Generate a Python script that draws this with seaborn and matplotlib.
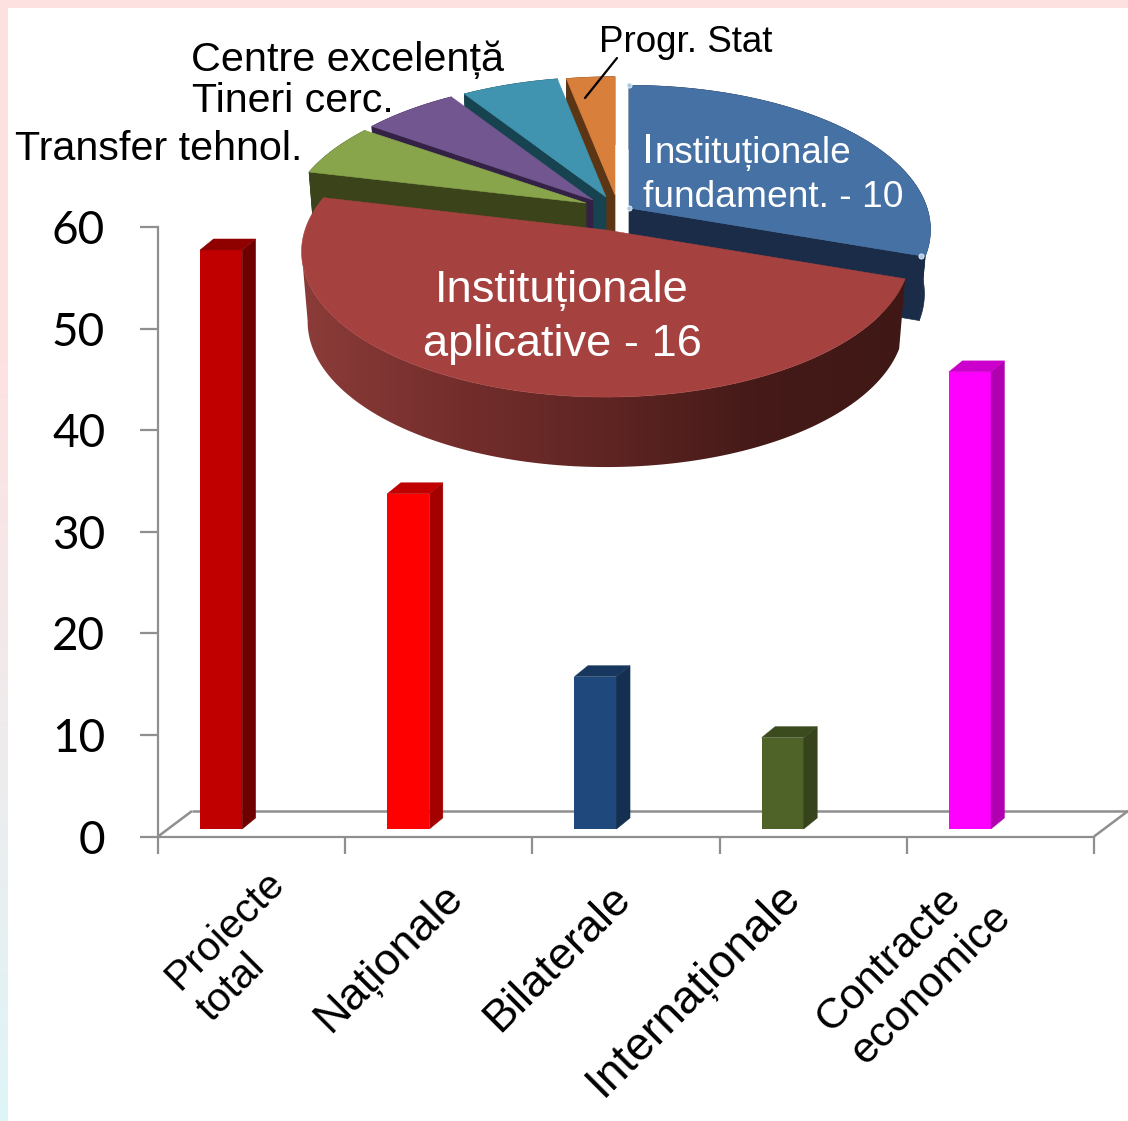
import numpy as np
import matplotlib
matplotlib.use("Agg")
import matplotlib.pyplot as plt
import seaborn as sns
from matplotlib.patches import Polygon
from matplotlib.transforms import Affine2D
from matplotlib.colors import LinearSegmentedColormap

# ---- data ----
categories = ["Proiecte\ntotal", "Naționale", "Bilaterale", "Internaționale", "Contracte\neconomice"]
bar_values = [57, 33, 15, 9, 45]
pie_names = ["Institutionale fundament.", "Institutionale aplicative", "Transfer tehnol.",
             "Tineri cerc.", "Centre excelenta", "Progr. Stat"]
pie_values = [10, 16, 2, 2, 2, 1]

# ---- styles ----
W, H = 1128, 1121
GREY = "#8f8f8f"
bar_front = ["#c00000", "#ff0000", "#1f497d", "#4f6228", "#ff00ff"]
bar_top = ["#8f0000", "#c00000", "#17375e", "#3c4b1e", "#cc00cc"]
bar_side = ["#6e0000", "#a30000", "#142f50", "#37441b", "#b000b0"]
pie_top = ["#4671a5", "#a54240", "#88a54b", "#725690", "#4094af", "#d87f3c"]
pie_dark = ["#1a2c47", "#5a2422", "#3a431a", "#332245", "#17424f", "#5c3514"]
apex_px = [(629, 208), (606, 230), (586, 203), (593, 200), (606, 197), (615, 195)]
pie_a = [298, 301, 295, 295, 295, 295]
pie_b = [141, 142, 136, 138, 138, 136]
pie_depth = [64, 70, 68, 68, 68, 68]
PERSP, TAPER = 0.15, 0.98
draw_order = [5, 4, 3, 2, 0, 1]
label_sizes = [29.5, 32.5, 32.5, 33.5, 31]
label_centres = [(241, 946), (389, 958), (558, 958), (694, 990), (914, 968)]

sns.set_theme(style="white")
plt.rcParams["font.family"] = ["Liberation Sans", "DejaVu Sans"]

fig = plt.figure(figsize=(W / 100, H / 100), dpi=100, facecolor="white")

# page background: pink top strip, pink-to-cyan left strip
bg = np.ones((H, W, 3))
t = np.clip((np.arange(H) - 350) / (H - 350), 0, 1)[:, None, None]
bg[:, :8] = (1 - t) * np.array([0.995, 0.885, 0.885]) + t * np.array([0.875, 0.96, 0.97])
bg[:8, :] = np.array([0.995, 0.885, 0.885])
fig.figimage(bg, 0, 0, origin="upper", zorder=-5)

# ---- category axes ----
x0, x1, y0, y60 = 158, 1094, 836.5, 227
rect = [x0 / W, (H - y0) / H, (x1 - x0) / W, (y0 - y60) / H]
ax = fig.add_axes(rect, zorder=1)
ax.patch.set_visible(False)
ax.set_xlim(-0.5, 4.5)
ax.set_ylim(0, 60)
px_x = (x1 - x0) / 5
px_y = (y0 - y60) / 60
for s in ("top", "right"):
    ax.spines[s].set_visible(False)
for s in ("left", "bottom"):
    ax.spines[s].set_color(GREY)
    ax.spines[s].set_linewidth(1.6)
ax.set_yticks(range(0, 61, 10))
ax.set_xticks(np.arange(-0.5, 5, 1))
ax.set_xticklabels([])
ax.tick_params(axis="y", length=13, width=1.6, color=GREY, pad=25, left=True)
ax.tick_params(axis="x", which="major", length=12.5, width=1.6, color=GREY, bottom=True)
for lab in ax.get_yticklabels():
    lab.set_fontfamily("Lato")
    lab.set_fontsize(33)
    lab.set_color("black")

ax.set_xticks(range(5), categories, minor=True)
ax.tick_params(axis="x", which="minor", length=0, pad=0)
for i, lab in enumerate(ax.get_xticklabels(minor=True)):
    lab.set(rotation=45, ha="center", va="center", fontsize=label_sizes[i], color="black",
            linespacing=1.25, multialignment="left")
    cx = x0 + (i + 0.5) * px_x
    lab.set_transform(lab.get_transform() + Affine2D().translate(label_centres[i][0] - cx,
                                                                 -(label_centres[i][1] - y0)))

# floor of the 3-D frame
fdx, fdy = 34 / px_x, 25.5 / px_y
floor_kw = dict(color=GREY, lw=1.8, clip_on=False, solid_capstyle="butt")
ax.plot([-0.5, -0.5 + fdx], [0, fdy], **floor_kw)
ax.plot([-0.5 + fdx, 4.5 + fdx], [fdy, fdy], **floor_kw)
ax.plot([4.5, 4.5 + fdx], [0, fdy], **floor_kw)

# ---- bars, on an axes shifted to the middle of the 3-D floor ----
bax = fig.add_axes([(x0 - 30.5) / W, (H - y0 + 7.5) / H, (x1 - x0) / W, (y0 - y60) / H], zorder=2)
sns.barplot(x=categories, y=bar_values, hue=categories, palette=bar_front, legend=False,
            width=0.225, saturation=1, ax=bax, linewidth=0)
bax.set_xlim(-0.5, 4.5)
bax.set_ylim(0, 60)
bax.axis("off")
ddx, ddy = 13.5 / px_x, 11 / px_y
for patch, side, top in zip(list(bax.patches), bar_side, bar_top):
    xa, xb, h = patch.get_x(), patch.get_x() + patch.get_width(), patch.get_height()
    bax.add_patch(Polygon([(xb, 0), (xb + ddx, ddy), (xb + ddx, h + ddy), (xb, h)], fc=side, ec=side, lw=0.3, clip_on=False))
    bax.add_patch(Polygon([(xa, h), (xa + ddx, h + ddy), (xb + ddx, h + ddy), (xb, h)], fc=top, ec=top, lw=0.3, clip_on=False))

# ---- exploded 3-D pie, in page pixels ----
pax = fig.add_axes([0, 0, 1, 1], zorder=3)
pax.axis("off")


def rim(deg, a, b):
    th = np.radians(deg)
    p = 1 / (1 + PERSP * np.cos(th))
    return a * np.sin(th) * p, -b * np.cos(th) * p


red_grad = LinearSegmentedColormap.from_list("rg", ["#8b3c39", "#742e2c", "#5f2523", "#451a18", "#3f1815"])
edges = np.concatenate([[0], np.cumsum(pie_values)]) / sum(pie_values) * 360

for i in draw_order:
    cx, cy = apex_px[i]
    a, b, depth = pie_a[i], pie_b[i], pie_depth[i]
    ang = np.linspace(edges[i], edges[i + 1], 200)
    rx, ry = rim(ang, a, b)
    tx, ty = cx + rx, cy + ry
    lx, ly = cx + TAPER * rx, cy + depth + ry
    if i == 1:
        # the front slice has a shaded wall, closed at its leftmost point
        n = int(np.argmin(tx)) + 1
        wall = Polygon(np.column_stack([np.r_[tx[:n], lx[:n][::-1]], np.r_[ty[:n], ly[:n][::-1]]]),
                       transform=pax.transData)
        im = pax.imshow(np.linspace(0, 1, 400)[None, :], cmap=red_grad, aspect="auto",
                        extent=[302, 908, 480, 190], zorder=2)
        im.set_clip_path(wall)
    else:
        k = -1 if i == 0 else 0
        pax.add_patch(Polygon([(cx, cy), (tx[k], ty[k]), (lx[k], ly[k]), (cx, cy + depth)],
                              fc=pie_dark[i], ec=pie_dark[i], lw=0.5, zorder=2))
        pax.add_patch(Polygon(np.column_stack([np.r_[tx, lx[::-1]], np.r_[ty, ly[::-1]]]),
                              fc=pie_dark[i], ec=pie_dark[i], lw=0.5, zorder=2))
    pax.add_patch(Polygon(np.column_stack([np.r_[cx, tx], np.r_[cy, ty]]),
                          fc=pie_top[i], ec=pie_top[i], lw=0.4, zorder=2))
pax.set_xlim(0, W)
pax.set_ylim(H, 0)

# selection handles on the blue slice
hx, hy = rim(np.array([0.0, edges[1]]), pie_a[0], pie_b[0])
pax.scatter(np.r_[apex_px[0][0], apex_px[0][0] + hx[0], apex_px[0][0] + hx[1] - 4],
            np.r_[apex_px[0][1], apex_px[0][1] + hy[0], apex_px[0][1] + hy[1]],
            s=14, color="#a9cbe0", edgecolors="white", linewidths=0.5, zorder=5)

# pie labels
txt = dict(va="baseline", ha="left", zorder=6)
pax.text(191, 71, "Centre excelență", fontsize=29.8, color="black", **txt)
pax.text(192, 112, "Tineri cerc.", fontsize=29.6, color="black", **txt)
pax.text(15, 160, "Transfer tehnol.", fontsize=29.7, color="black", **txt)
pax.text(599, 52, "Progr. Stat", fontsize=26.5, color="black", **txt)
pax.plot([617, 585], [58, 98], color="black", lw=1.6, zorder=6)
pax.text(642, 163, "I", fontsize=31, color="white", **txt)
pax.text(655, 163, "nstituționale", fontsize=26.6, color="white", **txt)
pax.text(643, 207, "fundament. - 10", fontsize=26.7, color="white", **txt)
pax.text(435, 302, "Instituționale", fontsize=32.6, color="white", **txt)
pax.text(423, 356, "aplicative - 16", fontsize=32.6, color="white", **txt)

fig.savefig("out.png", dpi=100, facecolor="white")
